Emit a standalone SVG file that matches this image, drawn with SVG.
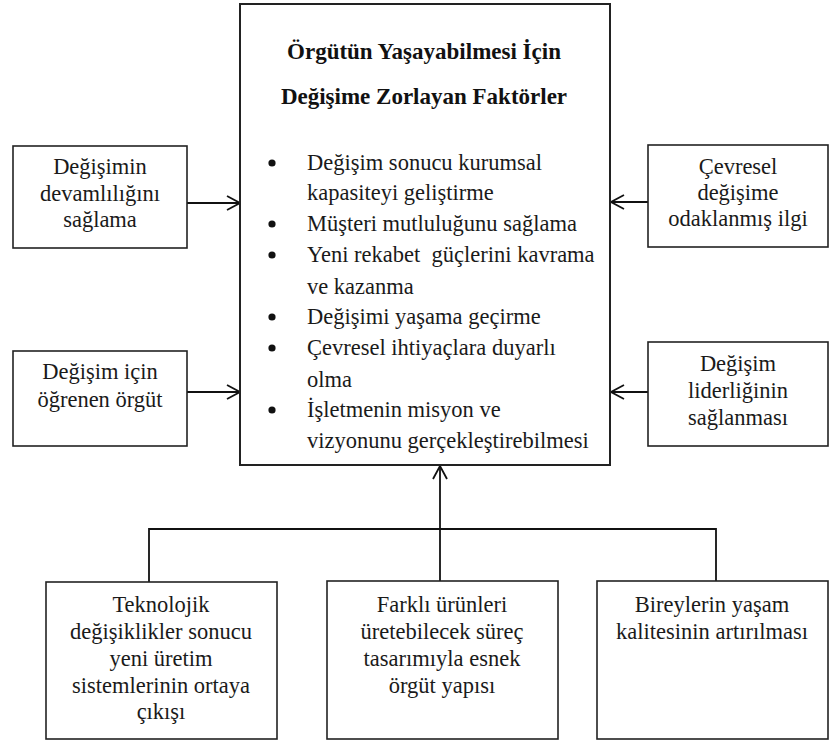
<svg xmlns="http://www.w3.org/2000/svg" width="835" height="741" viewBox="0 0 835 741">
<defs>
<marker id="arr" viewBox="0 0 16 16" refX="15" refY="8" markerWidth="16" markerHeight="16" markerUnits="userSpaceOnUse" orient="auto">
<path d="M2,1 L15,8 L2,15" fill="none" stroke="#111" stroke-width="1.8"/>
</marker>
</defs>
<rect width="835" height="741" fill="#fff"/>
<g id="connectors" fill="none" stroke="#111" stroke-width="1.8">
<line x1="187" y1="203" x2="240" y2="203" marker-end="url(#arr)"/>
<line x1="187" y1="392" x2="240" y2="392" marker-end="url(#arr)"/>
<line x1="648" y1="202" x2="611" y2="202" marker-end="url(#arr)"/>
<line x1="648" y1="392" x2="611" y2="392" marker-end="url(#arr)"/>
<polyline points="149,582 149,529 716,529 716,581"/>
<line x1="440" y1="581" x2="440" y2="466" marker-end="url(#arr)"/>
</g>
<g id="center">
<rect x="240" y="4" width="370" height="461" fill="#fff" stroke="#222" stroke-width="2"/>
<text style="font-family:'Liberation Serif',serif !important" font-size="23" font-weight="bold" fill="#111" text-anchor="middle" x="424" y="59">Örgütün Yaşayabilmesi İçin</text>
<text style="font-family:'Liberation Serif',serif !important" font-size="23" font-weight="bold" fill="#111" text-anchor="middle" x="424" y="104">Değişime Zorlayan Faktörler</text>
<g fill="#111">
<circle cx="272" cy="163" r="3.6"/>
<circle cx="272" cy="224" r="3.6"/>
<circle cx="272" cy="255" r="3.6"/>
<circle cx="272" cy="317" r="3.6"/>
<circle cx="272" cy="348" r="3.6"/>
<circle cx="272" cy="410" r="3.6"/>
</g>
<text style="font-family:'Liberation Serif',serif !important" font-size="22.5" fill="#1a1a1a" x="307" y="170">Değişim sonucu kurumsal</text>
<text style="font-family:'Liberation Serif',serif !important" font-size="22.5" fill="#1a1a1a" x="307" y="200">kapasiteyi geliştirme</text>
<text style="font-family:'Liberation Serif',serif !important" font-size="22.5" fill="#1a1a1a" x="307" y="231">Müşteri mutluluğunu sağlama</text>
<text style="font-family:'Liberation Serif',serif !important" font-size="22.5" fill="#1a1a1a" x="307" y="262" xml:space="preserve">Yeni rekabet  güçlerini kavrama</text>
<text style="font-family:'Liberation Serif',serif !important" font-size="22.5" fill="#1a1a1a" x="307" y="294">ve kazanma</text>
<text style="font-family:'Liberation Serif',serif !important" font-size="22.5" fill="#1a1a1a" x="307" y="324">Değişimi yaşama geçirme</text>
<text style="font-family:'Liberation Serif',serif !important" font-size="22.5" fill="#1a1a1a" x="307" y="355">Çevresel ihtiyaçlara duyarlı</text>
<text style="font-family:'Liberation Serif',serif !important" font-size="22.5" fill="#1a1a1a" x="307" y="387">olma</text>
<text style="font-family:'Liberation Serif',serif !important" font-size="22.5" fill="#1a1a1a" x="307" y="417">İşletmenin misyon ve</text>
<text style="font-family:'Liberation Serif',serif !important" font-size="22.5" fill="#1a1a1a" x="307" y="448">vizyonunu gerçekleştirebilmesi</text>
</g>
<g id="left1">
<rect x="13" y="146" width="174" height="102" fill="#fff" stroke="#222" stroke-width="1.6"/>
<text style="font-family:'Liberation Serif',serif !important" font-size="22.5" fill="#1a1a1a" text-anchor="middle" x="100" y="174">Değişimin</text>
<text style="font-family:'Liberation Serif',serif !important" font-size="22.5" fill="#1a1a1a" text-anchor="middle" x="100" y="201">devamlılığını</text>
<text style="font-family:'Liberation Serif',serif !important" font-size="22.5" fill="#1a1a1a" text-anchor="middle" x="100" y="227">sağlama</text>
</g>
<g id="left2">
<rect x="13" y="351" width="174" height="95" fill="#fff" stroke="#222" stroke-width="1.6"/>
<text style="font-family:'Liberation Serif',serif !important" font-size="22.5" fill="#1a1a1a" text-anchor="middle" x="100" y="379">Değişim için</text>
<text style="font-family:'Liberation Serif',serif !important" font-size="22.5" fill="#1a1a1a" text-anchor="middle" x="100" y="407">öğrenen örgüt</text>
</g>
<g id="right1">
<rect x="648" y="145" width="180" height="102" fill="#fff" stroke="#222" stroke-width="1.6"/>
<text style="font-family:'Liberation Serif',serif !important" font-size="22.5" fill="#1a1a1a" text-anchor="middle" x="738" y="174">Çevresel</text>
<text style="font-family:'Liberation Serif',serif !important" font-size="22.5" fill="#1a1a1a" text-anchor="middle" x="738" y="200">değişime</text>
<text style="font-family:'Liberation Serif',serif !important" font-size="22.5" fill="#1a1a1a" text-anchor="middle" x="738" y="226">odaklanmış ilgi</text>
</g>
<g id="right2">
<rect x="648" y="342" width="180" height="104" fill="#fff" stroke="#222" stroke-width="1.6"/>
<text style="font-family:'Liberation Serif',serif !important" font-size="22.5" fill="#1a1a1a" text-anchor="middle" x="738" y="371">Değişim</text>
<text style="font-family:'Liberation Serif',serif !important" font-size="22.5" fill="#1a1a1a" text-anchor="middle" x="738" y="398">liderliğinin</text>
<text style="font-family:'Liberation Serif',serif !important" font-size="22.5" fill="#1a1a1a" text-anchor="middle" x="738" y="425">sağlanması</text>
</g>
<g id="bottom1">
<rect x="46" y="582" width="231" height="157" fill="#fff" stroke="#222" stroke-width="1.6"/>
<text style="font-family:'Liberation Serif',serif !important" font-size="22.5" fill="#1a1a1a" text-anchor="middle" x="161" y="612">Teknolojik</text>
<text style="font-family:'Liberation Serif',serif !important" font-size="22.5" fill="#1a1a1a" text-anchor="middle" x="161" y="639">değişiklikler sonucu</text>
<text style="font-family:'Liberation Serif',serif !important" font-size="22.5" fill="#1a1a1a" text-anchor="middle" x="161" y="666">yeni üretim</text>
<text style="font-family:'Liberation Serif',serif !important" font-size="22.5" fill="#1a1a1a" text-anchor="middle" x="161" y="693">sistemlerinin ortaya</text>
<text style="font-family:'Liberation Serif',serif !important" font-size="22.5" fill="#1a1a1a" text-anchor="middle" x="161" y="719">çıkışı</text>
</g>
<g id="bottom2">
<rect x="327" y="581" width="231" height="158" fill="#fff" stroke="#222" stroke-width="1.6"/>
<text style="font-family:'Liberation Serif',serif !important" font-size="22.5" fill="#1a1a1a" text-anchor="middle" x="442" y="612">Farklı ürünleri</text>
<text style="font-family:'Liberation Serif',serif !important" font-size="22.5" fill="#1a1a1a" text-anchor="middle" x="442" y="639">üretebilecek süreç</text>
<text style="font-family:'Liberation Serif',serif !important" font-size="22.5" fill="#1a1a1a" text-anchor="middle" x="442" y="666">tasarımıyla esnek</text>
<text style="font-family:'Liberation Serif',serif !important" font-size="22.5" fill="#1a1a1a" text-anchor="middle" x="442" y="693">örgüt yapısı</text>
</g>
<g id="bottom3">
<rect x="597" y="581" width="231" height="158" fill="#fff" stroke="#222" stroke-width="1.6"/>
<text style="font-family:'Liberation Serif',serif !important" font-size="22.5" fill="#1a1a1a" text-anchor="middle" x="712" y="612">Bireylerin yaşam</text>
<text style="font-family:'Liberation Serif',serif !important" font-size="22.5" fill="#1a1a1a" text-anchor="middle" x="712" y="639">kalitesinin artırılması</text>
</g>
</svg>
